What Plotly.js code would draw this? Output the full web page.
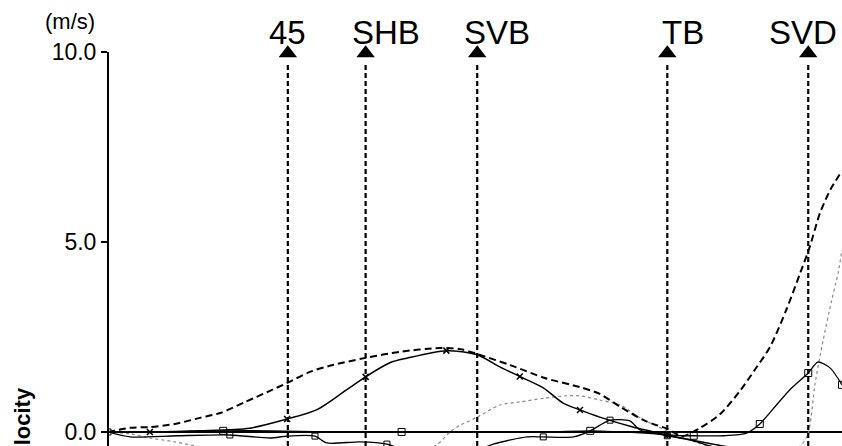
<!DOCTYPE html>
<html>
<head>
<meta charset="utf-8">
<script src="https://cdn.plot.ly/plotly-3.0.1.min.js"></script>
<style>html,body{margin:0;padding:0;background:#fff;}#chart{width:842px;height:446px;}</style>
</head>
<body>
<div id="chart"></div>
<script>
// ---- data (x: normalised time, y: velocity in m/s) ----
const dashX = [0.0, 3.0, 5.7, 9.1, 12.5, 15.3, 18.7, 21.7, 24.4, 27.5, 30.2, 35.1, 39.8, 45.2, 48.0, 50.3, 54.8, 59.5, 64.3, 67.0, 69.8, 73.2, 76.2, 78.3, 80.7, 83.4, 86.1, 88.1, 90.2, 92.4, 94.3, 95.6, 97.0, 98.4, 100.0];
const dashY = [0.00, 0.11, 0.13, 0.21, 0.37, 0.50, 0.79, 1.05, 1.29, 1.58, 1.74, 1.95, 2.11, 2.21, 2.18, 2.05, 1.76, 1.42, 1.18, 1.00, 0.66, 0.29, 0.08, -0.11, 0.11, 0.47, 1.08, 1.63, 2.24, 3.21, 4.18, 4.87, 5.76, 6.37, 6.87];

const crossX = [0.0, 5.7, 12.5, 19.3, 24.4, 28.4, 32.5, 35.1, 38.4, 40.7, 46.1, 50.3, 53.1, 56.1, 59.3, 62.0, 64.3, 67.0, 71.5, 76.2, 80.7, 83.8, 88.0];
const crossY = [0.00, 0.00, 0.03, 0.10, 0.34, 0.58, 1.11, 1.45, 1.82, 1.94, 2.14, 2.03, 1.74, 1.46, 1.16, 0.76, 0.58, 0.39, 0.13, -0.08, -0.26, -0.37, -0.55];

const dotX = [0.0, 3.0, 5.7, 9.1, 11.9, 15.3, 22.0, 30.2, 38.0, 42.5, 44.8, 46.6, 48.0, 50.1, 53.4, 56.1, 59.5, 62.3, 64.3, 67.0, 69.8, 72.5, 75.9, 79.3, 82.0, 88.8, 94.3, 95.4, 96.3, 97.3, 98.6, 99.5, 100.0];
const dotY = [0.00, -0.05, -0.16, -0.26, -0.37, -0.53, -0.75, -0.79, -0.70, -0.53, -0.34, 0.00, 0.18, 0.37, 0.71, 0.79, 0.89, 0.95, 0.95, 0.84, 0.71, 0.37, 0.05, -0.21, -0.39, -0.60, -0.37, -0.03, 1.24, 2.29, 3.47, 4.21, 4.79];

const sqX = [0.0, 9.1, 15.7, 22.1, 30.0, 40.0, 50.0, 60.0, 65.7, 73.2, 78.2, 79.8, 84.0, 87.0, 88.8, 90.5, 92.9, 95.4, 96.7, 98.4, 100.0];
const sqY = [0.00, 0.00, 0.03, 0.03, 0.00, 0.00, 0.00, 0.00, 0.03, -0.03, -0.10, -0.10, -0.10, -0.03, 0.21, 0.58, 1.11, 1.55, 1.84, 1.68, 1.24];

const lowX = [0.0, 3.0, 9.4, 16.6, 22.1, 24.4, 28.2, 29.8, 34.3, 38.0, 42.0, 48.0, 52.5, 57.1, 59.3, 63.4, 65.7, 68.4, 71.1, 72.5, 76.2, 79.3, 82.0, 86.0];
const lowY = [0.00, -0.13, -0.10, -0.08, -0.16, -0.11, -0.11, -0.29, -0.26, -0.32, -0.60, -0.65, -0.32, -0.13, -0.13, -0.13, 0.03, 0.31, 0.29, 0.05, -0.10, -0.21, -0.37, -0.55];

const eventX = [24.5, 35.1, 50.3, 76.2, 95.4];
const eventLabels = ['45', 'SHB', 'SVB', 'TB', 'SVD'];

const yTicks = [0, 5, 10];
const yTickText = ['0.0', '5.0', '10.0'];
const yRange = [-0.37, 11.37];

// ---- traces ----
const traces = [
  {x: dotX, y: dotY, mode: 'lines', line: {color: '#8a8a8a', width: 1.2, dash: 'dot', shape: 'spline', smoothing: 0.7}, hoverinfo: 'skip'},
  {x: lowX, y: lowY, mode: 'lines+markers', line: {color: '#000', width: 1.3, shape: 'spline', smoothing: 0.7},
   marker: {symbol: 'square-open', size: 6, color: '#000', maxdisplayed: 8}, hoverinfo: 'skip'},
  {x: sqX, y: sqY, mode: 'lines+markers', line: {color: '#000', width: 1.3, shape: 'spline', smoothing: 0.7},
   marker: {symbol: 'square-open', size: 7, color: '#000', maxdisplayed: 7}, hoverinfo: 'skip'},
  {x: crossX, y: crossY, mode: 'lines+markers', line: {color: '#000', width: 1.5, shape: 'spline', smoothing: 0.8},
   marker: {symbol: 'x-thin-open', size: 6, color: '#000', line: {width: 1.5, color: '#000'}, maxdisplayed: 8}, hoverinfo: 'skip'},
  {x: dashX, y: dashY, mode: 'lines', line: {color: '#000', width: 2, dash: '7px,4px', shape: 'spline', smoothing: 0.8}, hoverinfo: 'skip'},
  {x: eventX, y: eventX.map(() => 9.97), mode: 'markers', marker: {symbol: 'triangle-up', size: 16, color: '#000'}, cliponaxis: false, hoverinfo: 'skip'}
];

const shapes = [
  {type: 'line', xref: 'paper', x0: 0, x1: 0, yref: 'y', y0: yRange[0], y1: yTicks[yTicks.length - 1], line: {color: '#000', width: 2}}
].concat(eventX.map(x => ({
  type: 'line', xref: 'x', yref: 'y', x0: x, x1: x, y0: yRange[0], y1: 9.74,
  line: {color: '#000', width: 2.2, dash: '5px,3px'}
})));

const labelShift = [0, 20, 20, 16, -5];
const annotations = eventLabels.map((t, i) => ({
  text: t, x: eventX[i], y: 10.52, xref: 'x', yref: 'y', showarrow: false,
  xanchor: 'center', yanchor: 'middle', xshift: labelShift[i],
  font: {family: 'Liberation Sans, Arial, sans-serif', size: 33, color: '#000'}
})).concat([
  {text: '(m/s)', xref: 'paper', yref: 'paper', x: -0.015, y: 1 - 21 / 446, xanchor: 'right', yanchor: 'middle', showarrow: false,
   font: {family: 'Liberation Sans, Arial, sans-serif', size: 22, color: '#000'}},
  {text: '<b>Velocity</b>', xref: 'paper', yref: 'paper', x: (22 - 108) / 734, y: 1 - 385 / 446, xanchor: 'center', yanchor: 'top',
   textangle: -90, showarrow: false, font: {family: 'Liberation Sans, Arial, sans-serif', size: 22, color: '#000'}}
]);

const layout = {
  width: 842, height: 446,
  margin: {l: 108, r: 0, t: 0, b: 0, pad: 0},
  paper_bgcolor: '#fff', plot_bgcolor: '#fff',
  showlegend: false,
  xaxis: {range: [0, 100], visible: false, showgrid: false, zeroline: false},
  yaxis: {
    range: yRange, tickvals: yTicks, ticktext: yTickText,
    ticks: 'outside', ticklen: 6, tickwidth: 1.5, tickcolor: '#000',
    showgrid: false, showline: false,
    zeroline: true, zerolinecolor: '#000', zerolinewidth: 1.8,
    tickfont: {family: 'Liberation Sans, Arial, sans-serif', size: 23, color: '#000'}
  },
  shapes: shapes,
  annotations: annotations
};

Plotly.newPlot('chart', traces, layout, {staticPlot: true, displayModeBar: false});
</script>
</body>
</html>
